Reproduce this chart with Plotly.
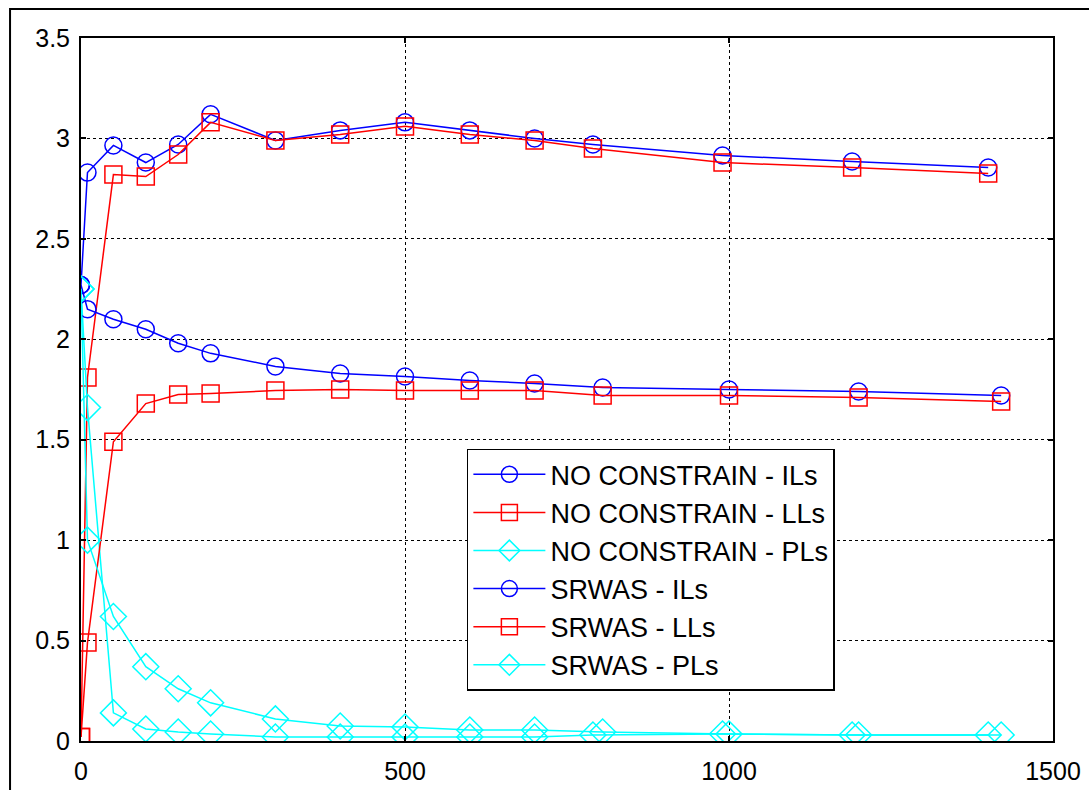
import plotly.graph_objects as go

# x positions (group 1: NO CONSTRAIN, group 2: SRWAS)
x_nc = [0, 10, 50, 100, 150, 200, 300, 400, 500, 600, 700, 790, 990, 1190, 1400]
x_sr = [0, 10, 50, 100, 150, 200, 300, 400, 500, 600, 700, 805, 1000, 1200, 1420]

nc_ils = [2.27, 2.83, 2.965, 2.88, 2.97, 3.12, 2.99, 3.04, 3.08, 3.04, 3.00, 2.97, 2.915, 2.885, 2.855]
nc_lls = [0.02, 1.81, 2.82, 2.81, 2.92, 3.08, 2.99, 3.02, 3.06, 3.02, 2.99, 2.95, 2.88, 2.855, 2.825]
nc_pls = [2.25, 1.66, 0.14, 0.06, 0.045, 0.035, 0.02, 0.02, 0.02, 0.02, 0.02, 0.03, 0.035, 0.03, 0.03]

sr_ils = [2.27, 2.15, 2.10, 2.05, 1.98, 1.93, 1.865, 1.83, 1.815, 1.795, 1.78, 1.76, 1.75, 1.74, 1.72]
sr_lls = [0.02, 0.49, 1.49, 1.68, 1.725, 1.73, 1.745, 1.75, 1.745, 1.745, 1.745, 1.72, 1.72, 1.71, 1.69]
sr_pls = [2.25, 1.00, 0.62, 0.37, 0.26, 0.19, 0.11, 0.075, 0.07, 0.055, 0.055, 0.045, 0.035, 0.03, 0.03]

x_ticks = [0, 500, 1000, 1500]
y_ticks = [0, 0.5, 1, 1.5, 2, 2.5, 3, 3.5]
y_tick_text = ["0", "0.5", "1", "1.5", "2", "2.5", "3", "3.5"]

BLUE = "rgb(0,0,255)"
RED = "rgb(255,0,0)"
CYAN = "rgb(0,255,255)"

series = [
    ("NO CONSTRAIN - ILs", x_nc, nc_ils, BLUE, "circle-open", 17),
    ("NO CONSTRAIN - LLs", x_nc, nc_lls, RED, "square-open", 17),
    ("NO CONSTRAIN - PLs", x_nc, nc_pls, CYAN, "diamond-open", 20),
    ("SRWAS - ILs", x_sr, sr_ils, BLUE, "circle-open", 17),
    ("SRWAS - LLs", x_sr, sr_lls, RED, "square-open", 17),
    ("SRWAS - PLs", x_sr, sr_pls, CYAN, "diamond-open", 20),
]

fig = go.Figure()
for name, xs, ys, col, sym, sz in series:
    fig.add_trace(go.Scatter(
        x=xs, y=ys, name=name, mode="lines+markers",
        line=dict(color=col, width=1.5),
        marker=dict(symbol=sym, size=sz, color=col, line=dict(color=col, width=1.5)),
    ))

axis_common = dict(
    showline=True, linecolor="black", linewidth=2, mirror="ticks",
    ticks="inside", ticklen=5, tickcolor="black", tickwidth=1.5,
    showgrid=True, gridcolor="black", griddash="dot", gridwidth=1,
    zeroline=False, automargin=False,
    tickfont=dict(family="Liberation Sans, Arial, sans-serif", size=25, color="black"),
)

fig.update_xaxes(range=[0, 1500], tickvals=x_ticks, ticklabelstandoff=7, **axis_common)
fig.update_yaxes(range=[0, 3.5], tickvals=y_ticks, ticktext=y_tick_text, ticklabelstandoff=4, **axis_common)

fig.update_layout(
    width=1089, height=790,
    margin=dict(l=81, r=36, t=38, b=49),
    paper_bgcolor="white", plot_bgcolor="white",
    showlegend=True,
    legend=dict(
        x=0.397, y=0.2436, xanchor="left", yanchor="middle",
        bgcolor="white", bordercolor="black", borderwidth=1.5,
        font=dict(family="Liberation Sans, Arial, sans-serif", size=27, color="black"),
        tracegroupgap=0, itemwidth=72,
    ),
    shapes=[dict(
        type="rect", xref="paper", yref="paper",
        x0=-0.0730, x1=1.2, y0=-0.3, y1=1.0412,
        line=dict(color="black", width=2), fillcolor="rgba(0,0,0,0)", layer="above",
    )],
)

fig.write_html("out.html")
